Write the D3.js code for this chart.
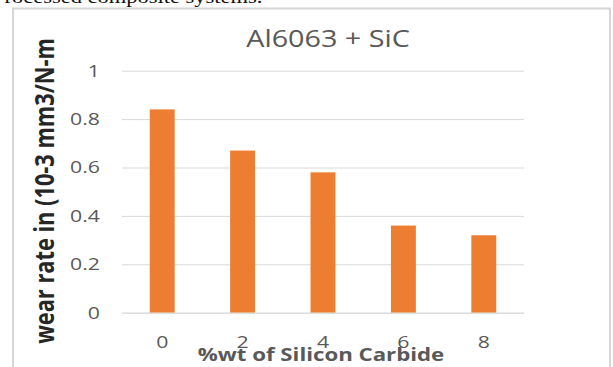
<!DOCTYPE html>
<html>
<head>
<meta charset="utf-8">
<script src="https://cdn.jsdelivr.net/npm/d3@7"></script>
<style>
  html, body { margin: 0; padding: 0; background: #fff; overflow: hidden; }
  svg { display: block; }
</style>
</head>
<body>
<svg id="chart" width="613" height="367"></svg>
<script>
// Wear rate of Al6063 reinforced with SiC
const categories = ["0", "2", "4", "6", "8"];
const wearRate = [0.84, 0.67, 0.58, 0.36, 0.32];
const yTicks = [0, 0.2, 0.4, 0.6, 0.8, 1];

const svg = d3.select("#chart");
const plot = { left: 122, right: 524, top: 70.7, bottom: 312.7 };
const SX = 1.25;              // horizontal stretch applied to all lettering
const FONT = "Open Sans, sans-serif";

// caption line of the surrounding document
svg.append("text")
  .attr("transform", `translate(-8,3) scale(${SX},1)`)
  .attr("font-family", "Liberation Serif, serif")
  .attr("font-size", 18)
  .attr("fill", "#111")
  .text("Processed composite systems.");

// chart frame
svg.append("rect")
  .attr("x", 13).attr("y", 8.5)
  .attr("width", 597).attr("height", 370)
  .attr("fill", "#fff")
  .attr("stroke", "#d6d6d6")
  .attr("stroke-width", 2);

const x = d3.scaleBand().domain(categories)
  .range([plot.left, plot.right]).paddingInner(0.69).paddingOuter(0.345);
const y = d3.scaleLinear().domain([0, 1]).range([plot.bottom, plot.top]);

// gridlines + value labels
const yAxis = d3.axisLeft(y).tickValues(yTicks).tickSize(-(plot.right - plot.left))
  .tickFormat(d => d3.format("~g")(d)).tickPadding(22);
const gy = svg.append("g").attr("transform", `translate(${plot.left},0)`).call(yAxis);
gy.select(".domain").remove();
gy.selectAll(".tick line").attr("stroke", "#d9d9d9").attr("stroke-width", 1);
gy.selectAll(".tick text")
  .attr("x", 0)
  .attr("transform", `translate(-22,0) scale(${SX},1)`)
  .attr("font-family", FONT)
  .attr("font-size", 17).attr("fill", "#595959");

// bars
svg.append("g").selectAll("rect").data(wearRate).join("rect")
  .attr("x", (d, i) => x(categories[i]))
  .attr("width", x.bandwidth())
  .attr("y", d => y(d))
  .attr("height", d => y(0) - y(d))
  .attr("fill", "#ED7D31");

// category axis
const xAxis = d3.axisBottom(x).tickSize(0);
const gx = svg.append("g").attr("transform", `translate(0,${plot.bottom})`).call(xAxis);
gx.select(".domain").attr("stroke", "#d9d9d9");
gx.selectAll(".tick text")
  .attr("y", 0).attr("dy", 0)
  .attr("transform", `translate(0,35) scale(${SX},1)`)
  .attr("font-family", FONT)
  .attr("font-size", 17).attr("fill", "#595959");

// title
svg.append("text")
  .attr("transform", `translate(328,47) scale(${SX},1)`)
  .attr("text-anchor", "middle")
  .attr("font-family", FONT)
  .attr("font-size", 23).attr("fill", "#595959")
  .text("Al6063 + SiC");

// axis titles
svg.append("text")
  .attr("transform", `translate(321,361) scale(${SX},1)`)
  .attr("text-anchor", "middle")
  .attr("font-family", FONT)
  .attr("font-weight", "bold")
  .attr("font-size", 17.8).attr("fill", "#595959")
  .text("%wt of Silicon Carbide");

svg.append("text")
  .attr("transform", `translate(54,191) scale(${SX},1) rotate(-90)`)
  .attr("text-anchor", "middle")
  .attr("font-family", FONT)
  .attr("font-weight", "bold")
  .attr("font-size", 21.8).attr("fill", "#262626")
  .text("wear rate in (10-3 mm3/N-m");
</script>
</body>
</html>
